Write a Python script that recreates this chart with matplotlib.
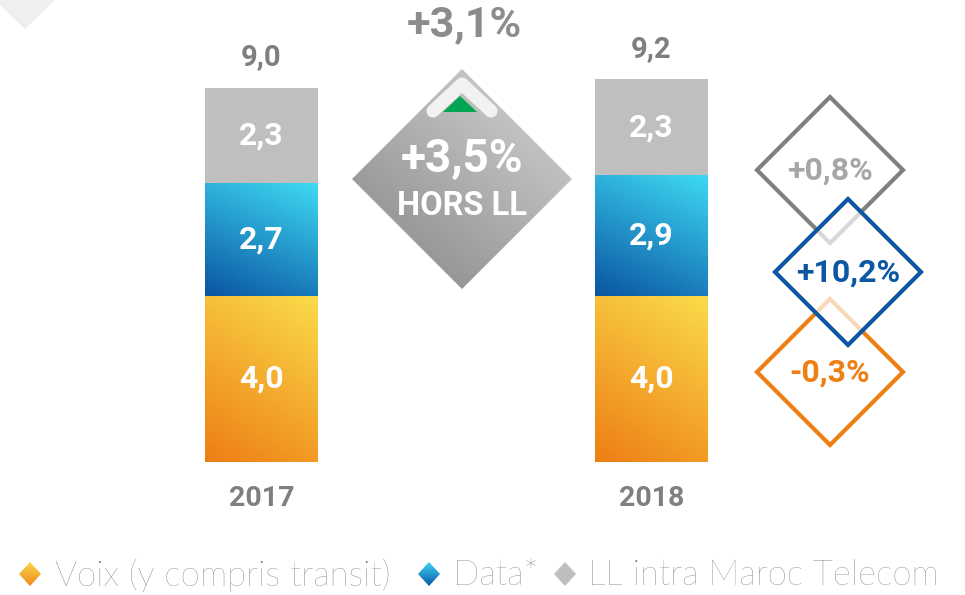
import numpy as np
import matplotlib.pyplot as plt
from matplotlib.patches import Polygon
from matplotlib.colors import LinearSegmentedColormap

# chart data
years = ['2017', '2018']
voix = [4.0, 4.0]
data = [2.7, 2.9]
ll = [2.3, 2.3]
growth_total = '+3,1%'
growth_hors_ll = '+3,5%'
# growth per series: LL, Data, Voix
growth_series = ['+0,8%', '+10,2%', '-0,3%']
legend_labels = ['Voix (y compris transit)', 'Data*', 'LL intra Maroc Telecom']

plt.rcParams['font.family'] = ['Roboto', 'DejaVu Sans']

W, H = 965, 595
fig = plt.figure(figsize=(W / 100, H / 100), dpi=100)

# main axes, scaled so bars land where they are in the reference
px_x, px_y = 390.0, 41.6
x0_px, y0_px = 261.5, 462
ax = fig.add_axes([0, 0, 1, 1])
xlim = (-x0_px / px_x, (W - x0_px) / px_x)
ylim = (-(H - y0_px) / px_y, y0_px / px_y)
ax.axis('off')

def fmt(v):
    return f"{v:.1f}".replace('.', ',')

def gradient(axis, patch, c_start, c_end, ext, tilt=0.0):
    # ext = (left, right, bottom, top); value goes 0 at bottom to 1 at top
    t = np.linspace(0, 1, 120)
    X, Y = np.meshgrid(t, t)
    g = (1 - tilt) * Y + tilt * X
    cmap = LinearSegmentedColormap.from_list('g', [c_start, c_end])
    im = axis.imshow(g, cmap=cmap, extent=ext, origin='lower', aspect='auto',
                     vmin=0, vmax=1, zorder=patch.get_zorder() + 0.1)
    im.set_clip_path(patch)

x = np.arange(len(years))
bw = 113 / px_x
bottom_data = np.array(voix)
bottom_ll = bottom_data + np.array(data)
b1 = ax.bar(x, voix, bw, color='#F5B030', zorder=2)
b2 = ax.bar(x, data, bw, bottom=bottom_data, color='#1E8CD0', zorder=2)
b3 = ax.bar(x, ll, bw, bottom=bottom_ll, color='#BFBFBF', zorder=2)

for r in b1:
    gradient(ax, r, '#EE7E14', '#FADC4A',
             (r.get_x(), r.get_x() + r.get_width(), r.get_y(), r.get_y() + r.get_height()), tilt=0.3)
for r in b2:
    gradient(ax, r, '#0A55A2', '#3ED9F3',
             (r.get_x(), r.get_x() + r.get_width(), r.get_y(), r.get_y() + r.get_height()), tilt=0.3)

for i in range(len(years)):
    segs = [(0, voix[i]), (voix[i], data[i]), (bottom_ll[i], ll[i])]
    for b, h in segs:
        ax.text(x[i], b + h / 2, fmt(h), ha='center', va='center', color='white',
                fontsize=23, fontweight='bold', zorder=5)
    total = voix[i] + data[i] + ll[i]
    ax.text(x[i], total + 30 / px_y, fmt(total), ha='center', va='center',
            color='#7F7F7F', fontsize=21, fontweight='bold')
    ax.text(x[i], -36 / px_y, years[i], ha='center', va='center',
            color='#7F7F7F', fontsize=20.5, fontweight='bold')

ax.set_xlim(*xlim)
ax.set_ylim(*ylim)

# overlay in pixel coordinates for the decorations
ov = fig.add_axes([0, 0, 1, 1], zorder=5)
ov.set_xlim(0, W)
ov.set_ylim(H, 0)
ov.axis('off')
ov.patch.set_alpha(0)

# corner triangle
ov.add_patch(Polygon([(0, 0), (55, 0), (25, 29), (0, 5)], closed=True,
                     facecolor='#EFEFEF', edgecolor='none'))

# centre diamond
cx, cy, hw = 462, 179, 110
dia = Polygon([(cx, cy - hw), (cx + hw, cy), (cx, cy + hw), (cx - hw, cy)],
              closed=True, facecolor='none', edgecolor='none', zorder=2)
ov.add_patch(dia)
t = np.linspace(0, 1, 120)
Xg, Yg = np.meshgrid(t, t)
cm = LinearSegmentedColormap.from_list('c', ['#858585', '#D6D6D6'])
im = ov.imshow(0.55 * Yg + 0.45 * Xg, cmap=cm, origin='lower', aspect='auto',
               extent=(cx - hw, cx + hw, cy + hw, cy - hw), vmin=0, vmax=1, zorder=2)
im.set_clip_path(dia)
ov.plot([433, 462, 491], [111, 84, 111], color='#F2F2F2', lw=9.5,
        solid_capstyle='round', solid_joinstyle='round', zorder=3)
ov.add_patch(Polygon([(443, 112), (460, 96), (477, 112)], closed=True,
                     facecolor='#00A651', edgecolor='none', zorder=4))
ov.text(cx, 158, growth_hors_ll, ha='center', va='center', color='white',
        fontsize=33, fontweight='bold', zorder=5)
ov.text(cx, 206, 'HORS LL', ha='center', va='center', color='white',
        fontsize=23.5, fontweight='bold', zorder=5)
ov.text(464, 25, growth_total, ha='center', va='center', color='#8C8C8C',
        fontsize=31, fontweight='bold')

# right side diamonds: LL, Data, Voix
centers = [(830, 170), (848, 272), (830, 372)]
edge_cols = ['#808080', '#0B57A4', '#EE7F14']
text_cols = ['#A6A6A6', '#0B57A4', '#EE7F14']
zs = [2, 4, 3]
fills = [(1, 1, 1, 1), (1, 1, 1, 0.7), (1, 1, 1, 1)]
s = 73
for (dx, dy), ec, tc, z, fc, lab in zip(centers, edge_cols, text_cols, zs, fills, growth_series):
    ov.add_patch(Polygon([(dx, dy - s), (dx + s, dy), (dx, dy + s), (dx - s, dy)],
                         closed=True, facecolor=fc, edgecolor=ec, lw=3, zorder=z,
                         joinstyle='miter'))
    ov.text(dx, dy + 1, lab, ha='center', va='center', color=tc,
            fontsize=23, fontweight='bold', zorder=6)

# legend
leg_marks = [(30, ['#F08A1C', '#FAD64A']), (429, ['#0A5AA8', '#3ED2F0']), (565, ['#BFBFBF', '#BFBFBF'])]
leg_text_x = [55, 453, 588]
for (mx, cols), tx, lab in zip(leg_marks, leg_text_x, legend_labels):
    my = 574
    p = Polygon([(mx, my - 12), (mx + 11, my), (mx, my + 12), (mx - 11, my)], closed=True,
                facecolor='none', edgecolor='none')
    ov.add_patch(p)
    lcm = LinearSegmentedColormap.from_list('l', cols)
    li = ov.imshow(np.linspace(0, 1, 50)[:, None] * np.ones((1, 10)), cmap=lcm, origin='lower',
                   aspect='auto', extent=(mx - 11, mx + 11, my + 12, my - 12), vmin=0, vmax=1)
    li.set_clip_path(p)
    ov.text(tx, my + 1, lab, ha='left', va='center', color='#6E6E6E', fontsize=25,
            family=['Lato', 'DejaVu Sans'], fontweight='light')

ov.set_xlim(0, W)
ov.set_ylim(H, 0)

fig.savefig('out.png', dpi=100)
